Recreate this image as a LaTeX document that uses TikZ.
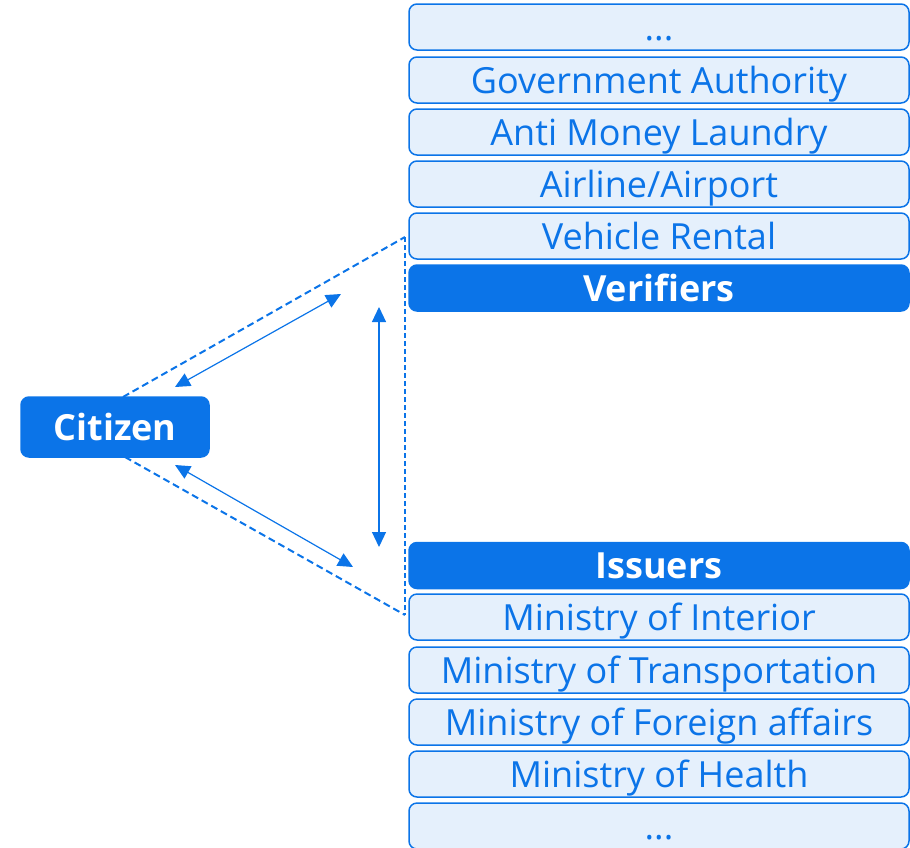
\documentclass[tikz,border=0pt]{standalone}
\usepackage{fontspec}
\setmainfont{Open Sans}
\usetikzlibrary{arrows.meta}
\definecolor{mblue}{RGB}{11,116,232}
\definecolor{lblue}{RGB}{229,240,252}
\tikzset{
  org/.style={draw=mblue, line width=1.5pt, fill=lblue, rounded corners=8pt,
    minimum width=500pt, minimum height=46pt, inner sep=0pt,
    text=mblue, font=\fontsize{36}{40}\selectfont, text height=26pt, text depth=0pt},
  role/.style={org, fill=mblue, text=white, font=\fontsize{36}{40}\selectfont\bfseries},
  dashline/.style={draw=mblue, line width=2pt, dash pattern=on 7pt off 4pt},
  vdash/.style={draw=mblue, line width=1.5pt, dash pattern=on 5pt off 3pt},
  flow/.style={draw=mblue, line width=1.2pt, {Triangle[length=15pt,width=14pt]}-{Triangle[length=15pt,width=14pt]}}
}
\begin{document}
\begin{tikzpicture}[x=1pt,y=-1pt]
\useasboundingbox (0,0) rectangle (910,847);
% verifier list
\node[org] (v0) at (659,27) {...};
\node[org] (v1) at (659,80) {Government Authority};
\node[org] (v2) at (659,132) {Anti Money Laundry};
\node[org] (v3) at (659,184) {Airline/Airport};
\node[org] (v4) at (659,236) {Vehicle Rental};
\node[role] (ver) at (659,288) {Verifiers};
% issuer list
\node[role] (iss) at (659,565.5) {Issuers};
\node[org] (i1) at (659,617) {Ministry of Interior};
\node[org] (i2) at (659,670) {Ministry of Transportation};
\node[org] (i3) at (659,722) {Ministry of Foreign affairs};
\node[org] (i4) at (659,774) {Ministry of Health};
\node[org] (i5) at (659,826) {...};
% citizen
\node[role, minimum width=188pt, minimum height=60pt] (cit) at (115,427) {Citizen};
% trust triangle
\coordinate (ct) at (123,397);
\coordinate (cb) at (125,457);
\coordinate (tt) at (405,237);
\coordinate (tb) at (405,615);
\draw[dashline] (ct) -- (tt);
\draw[dashline] (cb) -- (tb);
\draw[vdash] (tt) -- (tb);
% flows
\coordinate (a1) at (175,387);
\coordinate (a2) at (341,294);
\coordinate (b1) at (175,465);
\coordinate (b2) at (353,567);
\coordinate (c1) at (379,307);
\coordinate (c2) at (379,547);
\draw[flow] (a1) -- (a2);
\draw[flow] (b1) -- (b2);
\draw[flow] (c1) -- (c2);
\end{tikzpicture}
\end{document}
